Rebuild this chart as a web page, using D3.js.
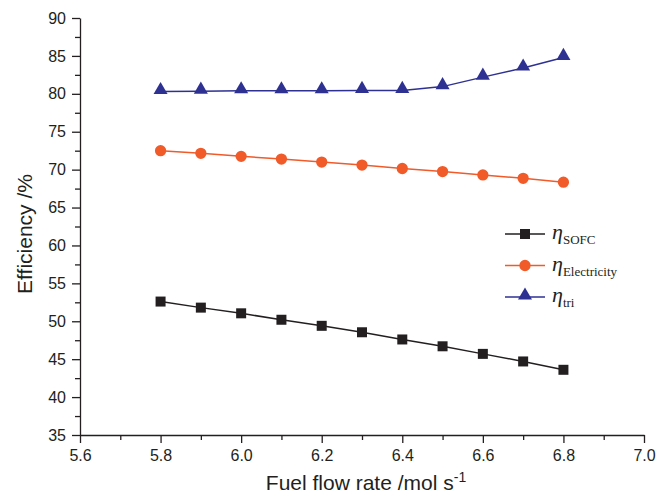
<!DOCTYPE html>
<style>
body { margin: 0; background: #fff; }
.axis text { font-family: "Liberation Sans", Arial, sans-serif; font-size: 16px; fill: #231f20; }
.axis path, .axis line { stroke: #231f20; stroke-width: 1.3; }
</style>
<svg width="672" height="496"></svg>
<script src="https://d3js.org/d3.v7.min.js"></script>
<script>

// values
var flow = [5.8, 5.9, 6.0, 6.1, 6.2, 6.3, 6.4, 6.5, 6.6, 6.7, 6.8];
var etaSOFC = [52.6, 51.8, 51.05, 50.2, 49.4, 48.55, 47.6, 46.7, 45.7, 44.7, 43.6];
var etaElec = [72.5, 72.15, 71.75, 71.4, 71.0, 70.6, 70.15, 69.75, 69.3, 68.85, 68.35];
var etaTri = [80.3, 80.35, 80.4, 80.4, 80.4, 80.45, 80.45, 80.95, 82.2, 83.4, 84.8];
var xTicks = [5.6, 5.8, 6.0, 6.2, 6.4, 6.6, 6.8, 7.0];
var yTicks = [35, 40, 45, 50, 55, 60, 65, 70, 75, 80, 85, 90];

var svg = d3.select("svg"),
    margin = {top: 18, right: 28, bottom: 61, left: 80},
    width = +svg.attr("width") - margin.left - margin.right,
    height = +svg.attr("height") - margin.top - margin.bottom,
    g = svg.append("g").attr("transform", "translate(" + margin.left + "," + margin.top + ")");

var x = d3.scaleLinear().domain([5.6, 7.0]).range([0, width]);
var y = d3.scaleLinear().domain([35, 90]).range([height, 0]);

// minor ticks
var xMinor = d3.range(5.7, 7.0, 0.2);
var yMinor = d3.range(37.5, 90, 5);

g.append("g")
    .attr("class", "axis")
    .attr("transform", "translate(0," + height + ")")
    .call(d3.axisBottom(x).tickValues(xMinor).tickSize(5).tickFormat(""))
    .select(".domain").remove();
g.append("g")
    .attr("class", "axis")
    .call(d3.axisLeft(y).tickValues(yMinor).tickSize(5).tickFormat(""))
    .select(".domain").remove();

g.append("g")
    .attr("class", "axis")
    .attr("transform", "translate(0," + height + ")")
    .call(d3.axisBottom(x).tickValues(xTicks).tickSize(8).tickSizeOuter(0).tickPadding(7).tickFormat(d3.format(".1f")));

g.append("g")
    .attr("class", "axis")
    .call(d3.axisLeft(y).tickValues(yTicks).tickSize(8).tickSizeOuter(0).tickPadding(6));

// axis titles
svg.append("text")
    .attr("x", 366)
    .attr("y", 490)
    .attr("text-anchor", "middle")
    .attr("font-family", "Liberation Sans, Arial, sans-serif")
    .attr("font-size", 21)
    .attr("fill", "#231f20")
    .html('Fuel flow rate /mol s<tspan dy="-8" font-size="14">-1</tspan>');

svg.append("text")
    .attr("transform", "translate(32,234) rotate(-90)")
    .attr("text-anchor", "middle")
    .attr("font-family", "Liberation Sans, Arial, sans-serif")
    .attr("font-size", 21)
    .attr("fill", "#231f20")
    .text("Efficiency /%");

var series = [
  {key: "SOFC", values: etaSOFC, color: "#231f20", shape: d3.symbolSquare, size: 100},
  {key: "Electricity", values: etaElec, color: "#f15a29", shape: d3.symbolCircle, size: 100},
  {key: "tri", values: etaTri, color: "#2e3192", shape: d3.symbolTriangle, size: 85}
];

var line = d3.line()
    .x(function(d) { return x(d[0]); })
    .y(function(d) { return y(d[1]); });

series.forEach(function(s) {
  var pts = flow.map(function(f, i) { return [f, s.values[i]]; });
  g.append("path")
      .datum(pts)
      .attr("fill", "none")
      .attr("stroke", s.color)
      .attr("stroke-width", 1.5)
      .attr("d", line);
  g.selectAll(null)
      .data(pts)
      .enter().append("path")
      .attr("transform", function(d) {
        var dy = s.shape === d3.symbolTriangle ? -1.5 : 0;
        return "translate(" + x(d[0]) + "," + (y(d[1]) + dy) + ")";
      })
      .attr("d", d3.symbol().type(s.shape).size(s.size))
      .attr("fill", s.color);
});

// legend
var legend = svg.append("g")
    .selectAll("g")
    .data(series)
    .enter().append("g")
    .attr("transform", function(d, i) { return "translate(505," + (234 + i * 31.5) + ")"; });

legend.append("line")
    .attr("x1", 0).attr("x2", 40)
    .attr("stroke", function(d) { return d.color; })
    .attr("stroke-width", 1.5);

legend.append("path")
    .attr("transform", function(d) { return "translate(20," + (d.shape === d3.symbolTriangle ? -1.5 : 0) + ")"; })
    .attr("d", function(d) { return d3.symbol().type(d.shape).size(d.size)(); })
    .attr("fill", function(d) { return d.color; });

legend.append("text")
    .attr("x", 47)
    .attr("y", 5)
    .attr("font-family", "Liberation Serif, Times New Roman, serif")
    .attr("font-size", 22)
    .attr("fill", "#231f20")
    .html(function(d) {
      return '<tspan font-style="italic">\u03b7</tspan><tspan dy="5" font-size="13">' + d.key + '</tspan>';
    });

</script>
